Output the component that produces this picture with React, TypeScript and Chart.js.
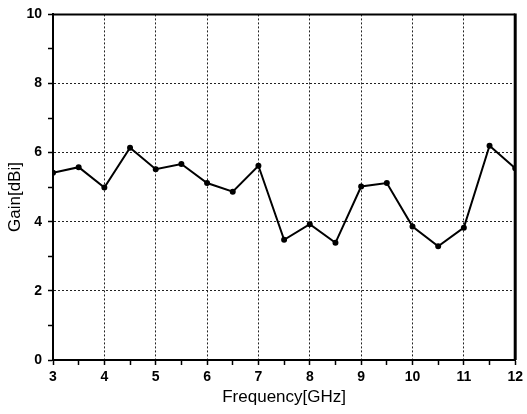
import React, { useEffect, useRef } from "react";
import { Chart, registerables } from "chart.js";

Chart.register(...registerables);

const frequencies = [3, 3.5, 4, 4.5, 5, 5.5, 6, 6.5, 7, 7.5, 8, 8.5, 9, 9.5, 10, 10.5, 11, 11.5, 12];
const gains = [5.42, 5.58, 4.99, 6.14, 5.52, 5.67, 5.12, 4.87, 5.62, 3.48, 3.93, 3.39, 5.02, 5.12, 3.86, 3.29, 3.83, 6.2, 5.55];
const xRange = [3, 12];
const yRange = [0, 10];
const xTitle = "Frequency[GHz]";
const yTitle = "Gain[dBi]";

const FONT = "'Liberation Sans', Arial, Helvetica, sans-serif";

const frame = {
  id: "frame",
  afterDraw(chart: any) {
    const { ctx, chartArea } = chart;
    ctx.save();
    ctx.strokeStyle = "#000";
    ctx.lineWidth = 2;
    ctx.beginPath();
    ctx.moveTo(chartArea.left, chartArea.top);
    ctx.lineTo(chartArea.right, chartArea.top);
    ctx.stroke();
    ctx.lineWidth = 3;
    ctx.beginPath();
    ctx.moveTo(chartArea.right, chartArea.top - 1);
    ctx.lineTo(chartArea.right, chartArea.bottom);
    ctx.stroke();
    // y-axis title
    ctx.fillStyle = "#000";
    ctx.font = `17px ${FONT}`;
    ctx.textAlign = "center";
    ctx.textBaseline = "middle";
    ctx.translate(15, 197);
    ctx.rotate(-Math.PI / 2);
    ctx.fillText(yTitle, 0, 0);
    ctx.restore();
  },
};

export default function App() {
  const ref = useRef<HTMLCanvasElement>(null);
  useEffect(() => {
    if (!ref.current) return;
    const chart = new Chart(ref.current, {
      type: "line",
      data: {
        datasets: [
          {
            data: frequencies.map((f, i) => ({ x: f, y: gains[i] })),
            borderColor: "#000",
            borderWidth: 2,
            pointRadius: 2,
            pointBackgroundColor: "#000",
            pointBorderColor: "#000",
            tension: 0,
          },
        ],
      },
      plugins: [frame],
      options: {
        animation: false,
        responsive: false,
        layout: { padding: { top: 12, right: 8, left: 0, bottom: 0 } },
        plugins: { legend: { display: false }, tooltip: { enabled: false } },
        scales: {
          x: {
            type: "linear",
            min: xRange[0],
            max: xRange[1],
            afterFit: (s: any) => {
              s.height = 54;
            },
            ticks: {
              stepSize: 0.5,
              autoSkip: false,
              maxRotation: 0,
              padding: 4,
              color: "#000",
              font: { family: FONT, size: 14, weight: "bold" },
              callback: (v: any) => (Number.isInteger(v) ? String(v) : ""),
            },
            grid: {
              color: (c: any) =>
                c.tick && Number.isInteger(c.tick.value) && c.tick.value !== xRange[0] ? "#222" : "rgba(0,0,0,0)",
              lineWidth: 1,
              tickColor: "#000",
              tickLength: 5,
              tickWidth: 1.5,
            },
            border: { display: true, color: "#000", width: 2, dash: [2, 2] },
            title: {
              display: true,
              text: xTitle,
              color: "#000",
              font: { family: FONT, size: 17 },
              padding: { top: 0, bottom: 6 },
            },
          },
          y: {
            min: yRange[0],
            max: yRange[1],
            afterFit: (s: any) => {
              s.width = 53;
            },
            ticks: {
              stepSize: 1,
              autoSkip: false,
              padding: 6,
              color: "#000",
              font: { family: FONT, size: 14, weight: "bold" },
              callback: (v: any) => (v % 2 === 0 ? String(v) : ""),
            },
            grid: {
              color: (c: any) =>
                c.tick && c.tick.value % 2 === 0 && c.tick.value !== yRange[0] ? "#222" : "rgba(0,0,0,0)",
              lineWidth: 1,
              tickColor: "#000",
              tickLength: 5,
              tickWidth: 1.5,
            },
            border: { display: true, color: "#000", width: 2, dash: [2, 2] },
          },
        },
      },
    });
    return () => chart.destroy();
  }, []);
  return (
    <div style={{ position: "absolute", left: 0, top: 0, width: 527, height: 414, background: "#fff" }}>
      <canvas ref={ref} width={527} height={414} style={{ width: 527, height: 414, display: "block" }} />
    </div>
  );
}
